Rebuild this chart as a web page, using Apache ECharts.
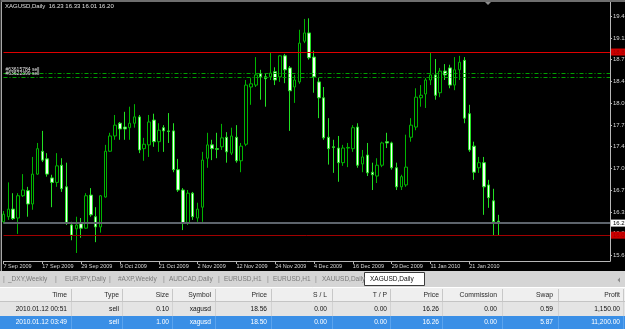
<!DOCTYPE html>
<html><head><meta charset="utf-8">
<script src="https://cdn.jsdelivr.net/npm/echarts@6/dist/echarts.min.js"></script>
<style>html,body{margin:0;padding:0;background:#000;overflow:hidden}#c{width:625px;height:329px}</style>
</head><body><div id="c"></div>
<script>
// ---- data ----
const sessionDays = {
  '2009.09': [7,8,9,10,11,14,15,16,17,18,21,22,23,24,25,28,29,30],
  '2009.10': [1,2,5,6,7,8,9,12,13,14,15,16,19,20,21,22,23,26,27,28,29,30],
  '2009.11': [2,3,4,5,6,9,10,11,12,13,16,17,18,19,20,23,24,25,26,27,30],
  '2009.12': [1,2,3,4,7,8,9,10,11,14,15,16,17,18,21,22,23,24,28,29,30,31],
  '2010.01': [4,5,6,7,8,11,12,13,14,15,18,19,20,21,22,25,26,27,28,29]
};
const openP = [
 16.22,16.30,16.42,16.28,16.63,16.71,16.50,16.97,17.33,17.21,
 16.91,16.84,17.11,16.77,16.17,16.11,16.19,16.12,16.64,16.30,
 16.14,16.61,17.33,17.57,17.77,17.71,17.70,17.77,17.87,17.37,
 17.43,17.82,17.48,17.70,17.65,17.65,17.04,16.72,16.20,16.67,
 16.28,16.45,17.22,17.43,17.37,17.40,17.55,17.30,17.55,17.18,
 17.44,18.34,18.37,18.55,18.50,18.50,18.58,18.50,18.83,18.64,
 18.34,18.42,19.06,19.19,18.81,18.42,18.17,17.55,17.40,17.38,
 17.15,17.38,17.37,17.71,17.13,17.27,17.00,16.94,17.11,17.48,
 17.46,17.07,16.77,16.80,17.55,17.71,18.17,18.23,18.45,18.53,
 18.25,18.59,18.64,18.37,18.61,18.76,17.92,17.41,17.07,17.15,
 16.80,16.55,16.23];
const closeP = [
 16.34,16.42,16.27,16.63,16.72,16.50,16.97,17.37,17.19,16.97,
 16.84,17.10,16.74,16.20,16.01,16.17,16.12,16.63,16.33,16.14,
 16.63,17.33,17.57,17.74,17.68,17.68,17.77,17.87,17.35,17.44,
 17.79,17.48,17.66,17.65,17.64,17.04,16.72,16.20,16.67,16.30,
 16.42,17.19,17.43,17.37,17.36,17.54,17.32,17.57,17.18,17.41,
 18.37,18.39,18.53,18.50,18.47,18.56,18.45,18.83,18.61,18.28,
 18.45,19.03,19.19,18.80,18.50,18.17,17.54,17.37,17.39,17.15,
 17.38,17.39,17.70,17.11,17.24,16.99,16.96,17.11,17.46,17.46,
 17.07,16.77,16.93,17.08,17.74,18.18,18.21,18.45,18.53,18.21,
 18.59,18.53,18.37,18.61,18.73,17.85,17.35,17.00,17.15,16.77,
 16.60,16.22,16.20];
const highP = [
 16.39,16.84,16.67,16.67,16.97,16.77,17.24,17.46,17.65,17.30,
 16.96,17.30,17.22,17.15,16.22,16.30,16.28,16.67,16.75,16.45,
 16.64,17.43,17.62,17.90,17.79,17.95,18.03,18.07,17.90,17.54,
 17.90,17.92,17.77,17.74,17.93,17.77,17.21,16.75,16.72,16.69,
 16.52,17.32,17.62,17.51,17.62,17.76,17.63,17.70,17.74,17.46,
 18.45,18.48,18.81,18.61,18.56,18.89,18.65,18.84,18.86,18.67,
 18.53,19.24,19.41,19.42,18.91,18.48,18.34,17.85,17.51,17.57,
 17.43,17.46,17.74,17.77,17.35,17.46,17.15,17.22,17.48,17.62,
 17.48,17.15,16.96,17.59,17.85,18.32,18.37,18.48,18.88,18.78,
 18.64,18.70,18.69,18.81,18.83,18.81,18.06,17.48,17.24,17.24,
 16.88,16.74,16.33];
const lowP = [
 16.19,16.25,16.25,16.03,16.61,16.30,16.41,16.96,17.16,16.93,
 16.45,16.77,16.69,16.17,15.93,15.73,15.97,16.11,16.30,15.90,
 16.05,16.60,17.32,17.51,17.51,17.51,17.51,17.70,17.30,17.18,
 17.24,17.40,17.32,17.32,17.46,17.00,16.69,16.09,16.17,16.25,
 16.22,16.22,17.07,17.19,17.22,17.35,17.15,17.27,17.15,17.00,
 17.41,18.06,18.34,18.14,18.03,18.45,18.37,18.42,18.40,17.65,
 18.09,18.39,19.03,18.77,18.25,17.85,17.51,17.12,16.99,16.85,
 17.10,17.08,17.32,17.07,17.00,16.94,16.72,16.83,17.08,17.38,
 17.04,16.72,16.72,16.77,17.48,17.66,18.03,18.01,18.37,18.14,
 18.18,18.45,18.32,18.29,18.45,17.77,17.32,16.88,16.99,16.33,
 16.44,16.01,16.01];
const tradeLevels = [18.56, 18.50];
const tradeTickets = ['#63615784 sell', '#63622399 sell'];
const redLevels = [18.89, 16.01];
const bidLevel = 16.20;
const titleText = 'XAGUSD,Daily  16.23 16.33 16.01 16.20';
const tabNames = ['_DXY,Weekly','EURJPY,Daily','#AXP,Weekly','AUDCAD,Daily','EURUSD,H1','EURUSD,H1','XAUUSD,Daily','XAGUSD,Daily'];
const activeTab = 7;
const columns = ['Time','Type','Size','Symbol','Price','S / L','T / P','Price','Commission','Swap','Profit'];
const orders = [
  ['2010.01.12 00:51','sell','0.10','xagusd','18.56','0.00','0.00','16.26','0.00','0.59','1,150.00'],
  ['2010.01.12 03:49','sell','1.00','xagusd','18.50','0.00','0.00','16.26','0.00','5.87','11,200.00']
];
// ---- build ----
const dates = [];
Object.keys(sessionDays).forEach(k => sessionDays[k].forEach(d => dates.push(k + '.' + String(d).padStart(2,'0'))));
const SHIFT = 23;
const categories = dates.concat(Array.from({length: SHIFT}, (_, i) => 'shift' + i));
const candles = dates.map((d, i) => [openP[i], closeP[i], lowP[i], highP[i]]);
const MON = ['Jan','Feb','Mar','Apr','May','Jun','Jul','Aug','Sep','Oct','Nov','Dec'];
const FONT = '"Liberation Sans", Arial, sans-serif';
const TICK = 0.342, OFF = 0.04;
const showIdx = (i) => i % 8 === 0 && i < dates.length;

// layout (styles)
const tabX = [8, 65, 118, 169, 224, 273, 322, 370];
const sepX = [3, 55, 109, 163, 218, 267, 315];
const colRight = [67, 119, 169, 211, 267, 327, 387, 439, 497, 553, 620];
const colSep = [71, 122, 172, 215, 271, 332, 390, 442, 502, 558, 623];

const g = [];
g.push({type:'rect', shape:{x:0,y:0,width:625,height:2}, style:{fill:'#6e6e6e'}, z:50});
g.push({type:'rect', shape:{x:0,y:0,width:1,height:271}, style:{fill:'#3a3a3a'}, z:50});
g.push({type:'rect', shape:{x:1,y:2,width:1,height:269}, style:{fill:'#a8a8a8'}, z:50});
g.push({type:'line', shape:{x1:610.5,y1:2,x2:610.5,y2:261.5}, style:{stroke:'#b8b8b8', lineWidth:1}, z:50});
g.push({type:'polygon', shape:{points:[[485,2],[491,2],[488,5]]}, style:{fill:'#8c8c8c'}, z:50});
g.push({type:'text', x:5, y:6, style:{text:titleText, fill:'#e0e0e0', font:'6px ' + FONT, textVerticalAlign:'middle'}, z:50});
// tabs
g.push({type:'rect', shape:{x:0,y:271,width:625,height:16}, style:{fill:'#d5d5d5'}, z:50});
g.push({type:'rect', shape:{x:364.5,y:272.5,width:60,height:13}, style:{fill:'#ffffff', stroke:'#3c3c3c', lineWidth:1}, z:51});
tabNames.forEach((t, i) => g.push({type:'text', x:tabX[i], y:279.5, style:{text:t, fill: i === activeTab ? '#111' : '#7a7a7a', font:'6.5px ' + FONT, textVerticalAlign:'middle'}, z:52}));
sepX.forEach(x => g.push({type:'text', x:x, y:279.5, style:{text:'|', fill:'#8a8a8a', font:'7px ' + FONT, textVerticalAlign:'middle'}, z:52}));
g.push({type:'polygon', shape:{points:[[620,277.5],[620,282.5],[617.5,280]]}, style:{fill:'#8a8a8a'}, z:52});
// table
g.push({type:'rect', shape:{x:0,y:287,width:625,height:15}, style:{fill:'#efefef'}, z:50});
g.push({type:'rect', shape:{x:0,y:302,width:625,height:14}, style:{fill:'#e4e4e4'}, z:50});
g.push({type:'rect', shape:{x:0,y:316,width:625,height:13}, style:{fill:'#3a8fe6'}, z:50});
g.push({type:'line', shape:{x1:0,y1:287.5,x2:625,y2:287.5}, style:{stroke:'#ffffff', lineWidth:1}, z:51});
g.push({type:'line', shape:{x1:0,y1:301.5,x2:625,y2:301.5}, style:{stroke:'#c4c4c4', lineWidth:1}, z:51});
colSep.forEach(x => {
  g.push({type:'line', shape:{x1:x+0.5,y1:289,x2:x+0.5,y2:301}, style:{stroke:'#c8c8c8', lineWidth:1}, z:51});
  g.push({type:'line', shape:{x1:x+0.5,y1:302,x2:x+0.5,y2:316}, style:{stroke:'#d2d2d2', lineWidth:1}, z:51});
  g.push({type:'line', shape:{x1:x+0.5,y1:316,x2:x+0.5,y2:329}, style:{stroke:'#5aa3ee', lineWidth:1}, z:51});
});
columns.forEach((c, i) => g.push({type:'text', x:colRight[i], y:295, style:{text:c, fill:'#2a2a2a', font:'6.8px ' + FONT, textAlign:'right', textVerticalAlign:'middle'}, z:52}));
const rowY = [309, 322.5];
const rowColor = ['#111111', '#ffffff'];
orders.forEach((r, ri) => r.forEach((v, i) => g.push({type:'text', x:colRight[i], y:rowY[ri], style:{text:v, fill:rowColor[ri], font:'6.6px ' + FONT, textAlign:'right', textVerticalAlign:'middle'}, z:52})));

const boxLabel = (txt, bg, fg) => ({show:true, position:'end', formatter:txt, backgroundColor:bg, color:fg, fontSize:6, fontFamily:FONT, padding:[1,3,0,2], distance:1});
const markData = [
  {yAxis: redLevels[0], lineStyle:{color:'#e00000', width:1, type:'solid'}, label: boxLabel(redLevels[0].toFixed(2), '#d00000', '#a00000')},
  {yAxis: bidLevel, lineStyle:{color:'#5d646c', width:2, type:'solid'}, label: boxLabel(bidLevel.toFixed(2), '#ffffff', '#000000')},
  {yAxis: redLevels[1], lineStyle:{color:'#a00000', width:1, type:'solid'}, label: boxLabel(redLevels[1].toFixed(2), '#cc0000', '#a00000')}
].concat(tradeLevels.map((v, i) => ({yAxis: v, lineStyle:{color:'#00a000', width:1, type:[4,2,1,2]},
  label:{show:true, position:'insideStartTop', formatter: tradeTickets[i], color:'#e6e6e6', fontSize:5, fontFamily:FONT, distance:[2,0.5]}})));

const chart = echarts.init(document.getElementById('c'));
chart.setOption({
  animation: false,
  backgroundColor: '#000000',
  grid: {left: 3.5, right: 15, top: 16.15, bottom: 73.6, containLabel: false, outerBoundsMode: 'none'},
  xAxis: {
    type: 'category', data: categories, boundaryGap: false, offset: 5.6,
    axisLine: {lineStyle: {color: '#b8b8b8', width: 1}},
    axisTick: {length: 3, interval: (i) => showIdx(i), lineStyle: {color: '#b8b8b8'}},
    axisLabel: {interval: (i) => showIdx(i), align: 'left', margin: 2, color: '#d8d8d8', fontSize: 5.5, fontFamily: FONT,
      formatter: (v, i) => { if (!/^\d{4}\.\d{2}\.\d{2}$/.test(v)) return ''; const p = v.split('.'); return (+p[2]) + ' ' + MON[+p[1]-1] + ' ' + p[0]; }},
    splitLine: {show: false}
  },
  yAxis: [
    {type: 'value', min: 15.692, max: 19.454, show: false, scale: true, splitLine: {show: false}},
    {type: 'value', position: 'right', min: 15.732, max: 19.494, interval: TICK,
      axisLine: {show: false}, splitLine: {show: false},
      axisTick: {show: true, length: 2, lineStyle: {color: '#b8b8b8'}},
      axisLabel: {margin: 3, color: '#d8d8d8', fontSize: 6, fontFamily: FONT, formatter: (v) => (v - OFF).toFixed(2)}}
  ],
  graphic: {elements: g},
  series: [{
    type: 'candlestick', yAxisIndex: 0, data: candles, barWidth: 3,
    itemStyle: {color: '#000000', color0: '#f4fff4', borderColor: '#00b400', borderColor0: '#22e022', borderWidth: 1},
    markLine: {silent: true, symbol: 'none', animation: false, data: markData}
  }]
});
</script>
</body></html>
